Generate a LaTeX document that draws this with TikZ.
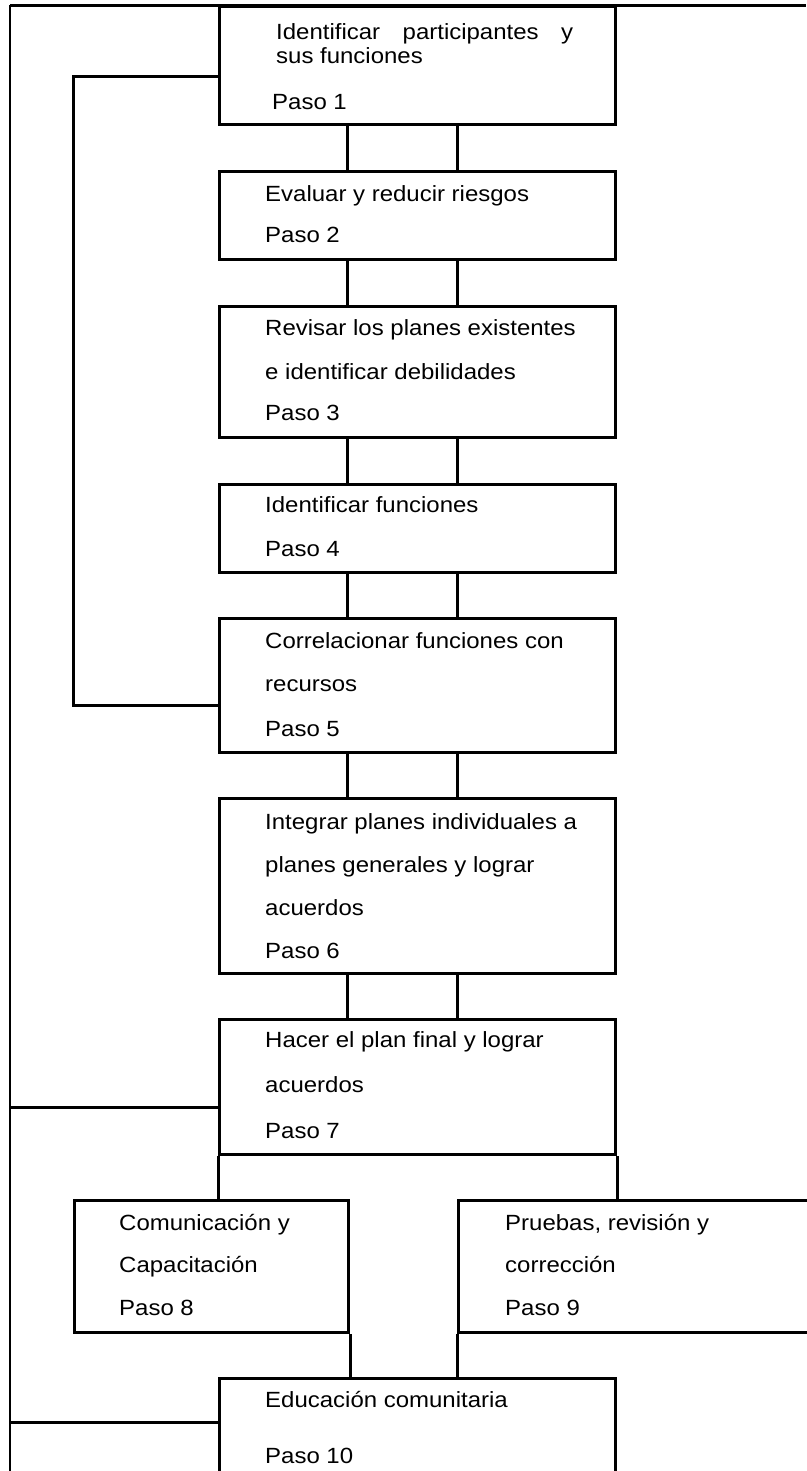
\documentclass[tikz,border=0pt]{standalone}
\usepackage{fontspec}
\setmainfont{Liberation Sans}[FakeStretch=1.09]
\begin{document}
\begin{tikzpicture}[x=1pt,y=-1pt,
  boxst/.style={draw=black,line width=3pt,rectangle,inner sep=0pt,anchor=north west},
  conn/.style={draw=black,line width=3pt},
  thinln/.style={draw=black,line width=2.2pt},
  txt/.style={anchor=base west,inner sep=0pt,font=\fontsize{22}{26}\selectfont}]
\useasboundingbox (0,0) rectangle (806,1471);
% boxes
\node[boxst,minimum width=396pt,minimum height=118pt] (b1) at (218,5.5) {};
\node[boxst,minimum width=396pt,minimum height=88pt] (b2) at (218,170) {};
\node[boxst,minimum width=396pt,minimum height=131pt] (b3) at (218,305) {};
\node[boxst,minimum width=396pt,minimum height=88pt] (b4) at (218,483) {};
\node[boxst,minimum width=396pt,minimum height=134pt] (b5) at (218,617) {};
\node[boxst,minimum width=396pt,minimum height=175pt] (b6) at (218,797) {};
\node[boxst,minimum width=396pt,minimum height=135pt] (b7) at (218,1018) {};
\node[boxst,minimum width=274pt,minimum height=132pt] (b8) at (73,1199) {};
\node[boxst,minimum width=370pt,minimum height=132pt] (b9) at (457,1199) {};
\node[boxst,minimum width=396pt,minimum height=130pt] (b10) at (218,1377) {};
% texts
\node[txt] (t1a) at (276,40) {\makebox[297pt][s]{Identificar\hfill participantes\hfill y}};
\node[txt] (t1b) at (276,64) {sus funciones};
\node[txt] (t1c) at (272,110) {Paso 1};
\node[txt] (t2a) at (265,202) {Evaluar y reducir riesgos};
\node[txt] (t2b) at (265,243) {Paso 2};
\node[txt] (t3a) at (265,335) {Revisar los planes existentes};
\node[txt] (t3b) at (265,379) {e identificar debilidades};
\node[txt] (t3c) at (265,420) {Paso 3};
\node[txt] (t4a) at (265,512) {Identificar funciones};
\node[txt] (t4b) at (265,556) {Paso 4};
\node[txt] (t5a) at (265,648) {Correlacionar funciones con};
\node[txt] (t5b) at (265,691) {recursos};
\node[txt] (t5c) at (265,736) {Paso 5};
\node[txt] (t6a) at (265,829) {Integrar planes individuales a};
\node[txt] (t6b) at (265,872) {planes generales y lograr};
\node[txt] (t6c) at (265,915) {acuerdos};
\node[txt] (t6d) at (265,958) {Paso 6};
\node[txt] (t7a) at (265,1047) {Hacer el plan final y lograr};
\node[txt] (t7b) at (265,1092) {acuerdos};
\node[txt] (t7c) at (265,1138) {Paso 7};
\node[txt] (t8a) at (119,1230) {Comunicación y};
\node[txt] (t8b) at (119,1272) {Capacitación};
\node[txt] (t8c) at (119,1315) {Paso 8};
\node[txt] (t9a) at (505,1230) {Pruebas, revisión y};
\node[txt] (t9b) at (505,1272) {corrección};
\node[txt] (t9c) at (505,1315) {Paso 9};
\node[txt] (t10a) at (265,1407) {Educación comunitaria};
\node[txt] (t10b) at (265,1463) {Paso 10};
% frame
\coordinate (ftl) at (10,5.5);
\coordinate (ftr) at (806,5.5);
\coordinate (fbl) at (10,1471);
\draw[conn] (ftl) -- (ftr);
\draw[thinln] (ftl) -- (fbl);
\draw[conn] (10,1107) -- (b7.west |- 0,1107);
\draw[conn] (10,1422) -- (b10.west |- 0,1422);
% left loop
\draw[conn] (b1.west |- 0,77) -- (73,77) -- (73,705) -- (b5.west |- 0,705);
% vertical connectors
\foreach \a/\b in {b1/b2,b2/b3,b3/b4,b4/b5,b5/b6,b6/b7}{
  \draw[conn] (\a.south west -| 347,0) -- (\b.north west -| 347,0);
  \draw[conn] (\a.south west -| 457,0) -- (\b.north west -| 457,0);
}
\draw[conn] (b7.south west) -- (b7.south west |- b8.north);
\draw[conn] (b7.south east) -- (b7.south east |- b9.north);
\draw[conn] (b8.south east) -- (b8.south east |- b10.north);
\draw[conn] (b9.south west) -- (b9.south west |- b10.north);
\end{tikzpicture}
\end{document}
